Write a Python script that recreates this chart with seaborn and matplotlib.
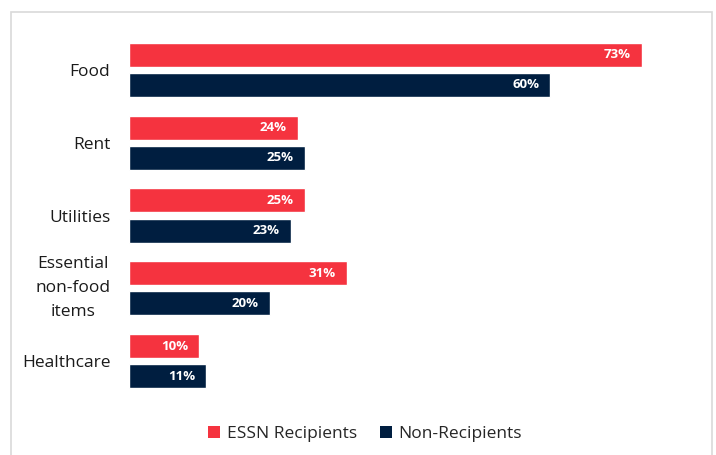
import matplotlib
matplotlib.use("Agg")
import matplotlib.pyplot as plt
from matplotlib.patches import Rectangle, Patch
import seaborn as sns
import pandas as pd

# Share of households spending on each need
categories = ["Food", "Rent", "Utilities", "Essential\nnon-food\nitems", "Healthcare"]
essn_recipients = [73, 24, 25, 31, 10]
non_recipients = [60, 25, 23, 20, 11]
series_names = ["ESSN Recipients", "Non-Recipients"]

RED = "#F5333F"
NAVY = "#001E40"

df = pd.DataFrame({
    "category": categories * 2,
    "value": essn_recipients + non_recipients,
    "group": [series_names[0]] * len(categories) + [series_names[1]] * len(categories),
})

sns.set_theme(style="white")
plt.rcParams["font.family"] = ["Open Sans", "DejaVu Sans"]

W, H = 716, 455
fig = plt.figure(figsize=(W / 100, H / 100), dpi=100)

# axes placed in pixel terms
left, right = 129, 691
top, bottom = 33.6, 397.4
ax = fig.add_axes([left / W, 1 - bottom / H, (right - left) / W, (bottom - top) / H])

sns.barplot(
    data=df, y="category", x="value", hue="group", orient="h",
    palette=[RED, NAVY], width=0.825, gap=0.2, ax=ax, legend=False,
    saturation=1,
)

ax.set_xlim(0, 80)
ax.set_ylim(4.5, -0.5)
ax.set_xlabel("")
ax.set_ylabel("")
ax.set_xticks([])
for s in ax.spines.values():
    s.set_visible(False)
ax.tick_params(axis="y", length=0, pad=13.5, labelsize=12.5, labelcolor="#1a1a1a")
for lbl in ax.get_yticklabels():
    lbl.set_multialignment("center")
    if "\n" in lbl.get_text():
        lbl.set_linespacing(1.65)
        lbl.set_verticalalignment("center")

# value labels inside bar ends
for container in ax.containers:
    for bar in container:
        val = bar.get_width()
        ax.annotate(
            f"{val:.0f}%",
            xy=(val, bar.get_y() + bar.get_height() / 2),
            xytext=(-8, 0), textcoords="offset points",
            ha="right", va="center", color="white",
            fontsize=9.5, fontweight="bold",
        )

# legend
handles = [Patch(facecolor=RED, edgecolor="none"), Patch(facecolor=NAVY, edgecolor="none")]
fig.legend(
    handles, series_names, loc="center", bbox_to_anchor=(365 / W, 1 - 434 / H),
    ncol=2, frameon=False, fontsize=12.5, handlelength=0.7, handleheight=0.7,
    handletextpad=0.4, columnspacing=1.3,
)

# light frame around the chart
fig.patches.append(Rectangle(
    (11 / W, -0.05), (712 - 11) / W, 1 - 12 / H + 0.05,
    transform=fig.transFigure, fill=False, edgecolor="#D9D9D9", linewidth=1.2,
))

fig.savefig("out.png", dpi=100)
